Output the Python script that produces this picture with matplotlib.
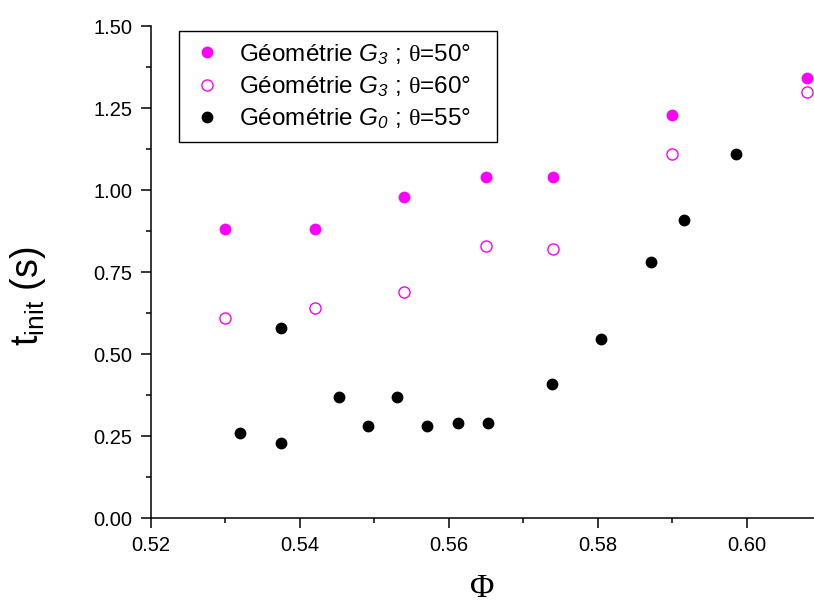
import matplotlib
matplotlib.use("Agg")
import matplotlib.pyplot as plt
from matplotlib.ticker import MultipleLocator, FormatStrFormatter

plt.rcParams['font.family'] = ['Liberation Sans', 'DejaVu Sans']
plt.rcParams['mathtext.fontset'] = 'custom'
plt.rcParams['mathtext.rm'] = 'Liberation Serif'
plt.rcParams['mathtext.it'] = 'Liberation Sans:italic'
plt.rcParams['mathtext.tt'] = 'Liberation Sans:italic'  # italic digits in subscripts
plt.rcParams['mathtext.sf'] = 'Liberation Sans'

# G3, theta = 50 deg (filled magenta)
phi_g3_50 = [0.530, 0.542, 0.554, 0.565, 0.574, 0.590, 0.608]
t_g3_50 = [0.88, 0.88, 0.98, 1.04, 1.04, 1.23, 1.34]

# G3, theta = 60 deg (open magenta)
phi_g3_60 = [0.530, 0.542, 0.554, 0.565, 0.574, 0.590, 0.608]
t_g3_60 = [0.61, 0.64, 0.69, 0.83, 0.82, 1.11, 1.30]

# G0, theta = 55 deg (black)
phi_g0_55 = [0.532, 0.5375, 0.5375, 0.5452, 0.5491, 0.5531, 0.5571,
             0.5612, 0.5653, 0.5738, 0.5804, 0.5871, 0.5916, 0.5985]
t_g0_55 = [0.26, 0.23, 0.58, 0.37, 0.28, 0.37, 0.28,
           0.29, 0.29, 0.41, 0.545, 0.78, 0.91, 1.11]

labels = [r"Géométrie $G_{\mathtt{3}}$ ; $\mathrm{\theta}$=50°   ",
          r"Géométrie $G_{\mathtt{3}}$ ; $\mathrm{\theta}$=60°   ",
          r"Géométrie $G_{\mathtt{0}}$ ; $\mathrm{\theta}$=55°   "]

fig = plt.figure(figsize=(8.14, 6.03), dpi=100)
ax = fig.add_axes([150.7 / 814, 1 - 518 / 603, (814 - 150.7) / 814, (518 - 26) / 603])

ax.plot(phi_g3_50, t_g3_50, 'o', color='#ff00ff', markersize=8.5, markeredgewidth=0,
        label=labels[0], clip_on=False)
ax.plot(phi_g3_60, t_g3_60, 'o', markerfacecolor='none', markeredgecolor='#ff00ff',
        markersize=8, markeredgewidth=1.0, label=labels[1], clip_on=False)
ax.plot(phi_g0_55, t_g0_55, 'o', color='black', markersize=8.5, markeredgewidth=0,
        label=labels[2], clip_on=False)

ax.set_xlim(0.52, 0.609)
ax.set_ylim(0, 1.5)
ax.spines['top'].set_visible(False)
ax.spines['right'].set_visible(False)
ax.spines['left'].set_linewidth(1.1)
ax.spines['bottom'].set_linewidth(1.1)

ax.xaxis.set_major_locator(MultipleLocator(0.02))
ax.xaxis.set_minor_locator(MultipleLocator(0.01))
ax.yaxis.set_major_locator(MultipleLocator(0.25))
ax.yaxis.set_minor_locator(MultipleLocator(0.125))
ax.xaxis.set_major_formatter(FormatStrFormatter('%.2f'))
ax.yaxis.set_major_formatter(FormatStrFormatter('%.2f'))
ax.tick_params(which='major', direction='out', length=7, width=1.1, labelsize=14.5, pad=6)
ax.tick_params(which='minor', direction='out', length=3.5, width=1.1)

ax.set_xlabel("Φ", fontsize=24, family='Liberation Serif')
ax.xaxis.set_label_coords(0.5, -0.113)
ax.set_ylabel(r"$\mathsf{t}_{\mathsf{init}}$ (s)", fontsize=27)
ax.yaxis.set_label_coords(-0.155, 0.45)

leg = ax.legend(loc='upper left', bbox_to_anchor=(0.043, 0.99), fontsize=17.5,
                frameon=True, fancybox=False, edgecolor='black', framealpha=1,
                borderpad=0.45, handletextpad=0.6, labelspacing=0.3,
                handlelength=1.4, borderaxespad=0)
leg.get_frame().set_linewidth(1.0)

fig.savefig("out.png", dpi=100)
